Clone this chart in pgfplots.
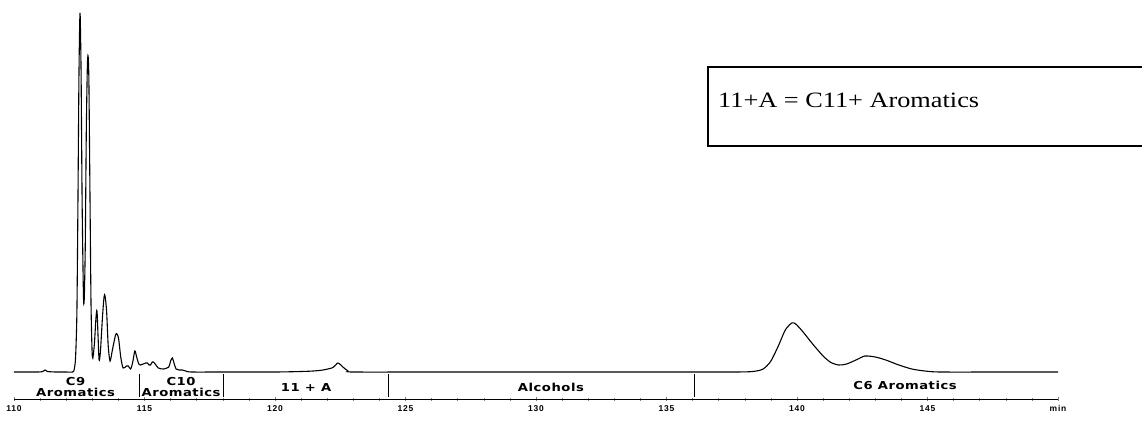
\documentclass[border=0pt]{standalone}
\usepackage{fontspec}
\usepackage{pgfplots}
\pgfplotsset{compat=1.18}
\setmainfont{Liberation Serif}
\newfontfamily\labfont[LetterSpace=4]{DejaVu Sans Bold}
\newfontfamily\tickfont[LetterSpace=10]{Liberation Sans Bold}
\newcommand\lab[1]{\scalebox{1.2}[1]{\labfont\fontsize{11}{9.5}\selectfont\begin{tabular}{@{}c@{}}#1\end{tabular}}}
\begin{document}
\begin{tikzpicture}[x=1bp,y=1bp]
\useasboundingbox (0,0) rectangle (1142,421);
\begin{axis}[
  scale only axis,
  at={(14bp,22bp)}, anchor=south west,
  width=1044bp, height=399bp,
  xmin=110, xmax=150, ymin=-27, ymax=372,
  axis x line*=bottom, axis y line=none,
  axis line style={line width=0.8bp},
  xtick={110,115,...,150},
  xticklabels={110,115,120,125,130,135,140,145,min},
  minor x tick num=4,
  tick align=center,
  major tick length=4bp, minor tick length=3bp,
  tick style={line width=0.6bp},
  xticklabel style={font=\tickfont\fontsize{8.5}{8.5}\selectfont, yshift=-1bp},
  /pgf/number format/assume math mode=true,
  clip=false,
]
\addplot[line width=1.1bp, smooth, tension=0.45] coordinates {
(110,0)(110.9,0)(111.1,0.5)(111.19,2)(111.28,0.5)(111.6,0)(112.0,0)
(112.25,0)(112.31,3)(112.36,15)(112.41,60)(112.45,170)(112.49,300)(112.53,359)
(112.57,300)(112.61,170)(112.66,78)(112.69,72)(112.73,125)(112.77,240)(112.81,305)
(112.84,316)(112.87,290)(112.91,180)(112.95,70)(112.99,22)(113.02,14)(113.08,28)
(113.14,54)(113.18,61)(113.22,36)(113.26,12)(113.31,20)(113.39,55)(113.45,75)
(113.49,76)(113.55,60)(113.61,26)(113.68,11)(113.77,22)(113.89,37)(113.95,38)
(114.01,33)(114.09,15)(114.18,4)(114.31,6)(114.38,6)(114.47,3)(114.55,10)
(114.63,21)(114.7,15)(114.78,8)(114.84,7)(114.95,8)(115.05,9)(115.11,9)
(115.18,7)(115.23,7)(115.3,10)(115.34,10)(115.41,8)(115.53,4)(115.73,3)
(115.93,5)(116.0,11)(116.07,14)(116.13,9)(116.21,3)(116.33,2)(116.45,2)
(116.58,1)(116.8,0)(118,0)(120,0)(121.0,0.5)(121.46,1)(121.84,2)(122.22,4.5)
(122.41,9)(122.6,5)(122.8,1)(123.0,0)(126,0)(130,0)(134,0)(137.5,0)(138.3,0.5)
(138.7,3)(139.0,11)(139.3,27)(139.55,42)(139.8,49)(139.95,48)(140.2,41)(140.6,28)
(141.0,16)(141.3,9.5)(141.6,7)(141.9,8)(142.3,12.5)(142.6,16)(143.0,15)(143.4,12)
(143.9,7)(144.4,3)(144.9,1)(145.5,0)(148,0)(150,0)
};
% region dividers
\addplot[line width=0.8bp] coordinates {(114.79,-2) (114.79,-25)};
\addplot[line width=0.8bp] coordinates {(118.04,-2) (118.04,-25)};
\addplot[line width=0.8bp] coordinates {(124.35,-2) (124.35,-25)};
\addplot[line width=0.8bp] coordinates {(136.08,-2) (136.08,-25)};
% region labels
\node[inner sep=0pt] at (axis cs:112.36,-16) {\lab{C9\\Aromatics}};
\node[inner sep=0pt] at (axis cs:116.40,-16) {\lab{C10\\Aromatics}};
\node[inner sep=0pt] at (axis cs:121.19,-17) {\lab{11 + A}};
\node[inner sep=0pt] at (axis cs:130.57,-17) {\lab{Alcohols}};
\node[inner sep=0pt] at (axis cs:144.14,-15) {\lab{C6 Aromatics}};
\end{axis}
\draw[line width=1.2bp] (1150,354) -- (708,354) -- (708,275) -- (1150,275);
\node[anchor=west, inner sep=0pt] at (718,321) {\scalebox{1.2}[1]{\fontsize{22}{22}\selectfont 11+A = C11+ Aromatics}};
\end{tikzpicture}
\end{document}
